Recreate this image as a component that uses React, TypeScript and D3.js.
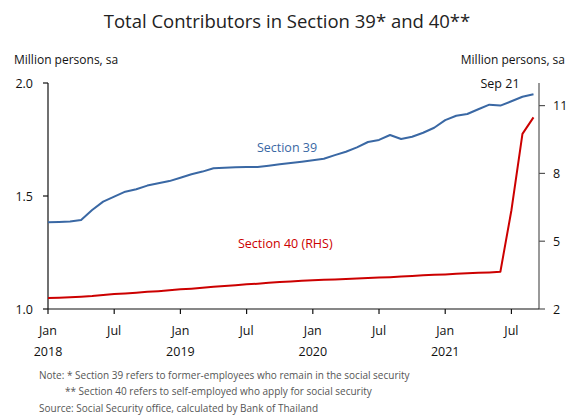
import React from "react";
import * as d3 from "d3";

// Monthly observations, Jan 2018 .. Sep 2021
const months: string[] = [
  "2018-01","2018-02","2018-03","2018-04","2018-05","2018-06","2018-07","2018-08","2018-09","2018-10","2018-11","2018-12",
  "2019-01","2019-02","2019-03","2019-04","2019-05","2019-06","2019-07","2019-08","2019-09","2019-10","2019-11","2019-12",
  "2020-01","2020-02","2020-03","2020-04","2020-05","2020-06","2020-07","2020-08","2020-09","2020-10","2020-11","2020-12",
  "2021-01","2021-02","2021-03","2021-04","2021-05","2021-06","2021-07","2021-08","2021-09",
];

// Section 39 (million persons, left axis)
const section39: number[] = [
  1.384, 1.385, 1.387, 1.394, 1.438, 1.475, 1.497, 1.519, 1.530, 1.546, 1.556, 1.566,
  1.581, 1.596, 1.608, 1.623, 1.625, 1.627, 1.628, 1.628, 1.634, 1.640, 1.646, 1.652,
  1.658, 1.665, 1.681, 1.696, 1.715, 1.739, 1.748, 1.770, 1.752, 1.762, 1.780, 1.802,
  1.836, 1.855, 1.863, 1.884, 1.904, 1.900, 1.919, 1.939, 1.950,
];

// Section 40 (million persons, right axis)
const section40: number[] = [
  2.49, 2.50, 2.52, 2.54, 2.57, 2.62, 2.66, 2.69, 2.72, 2.76, 2.79, 2.83,
  2.87, 2.90, 2.94, 2.98, 3.02, 3.05, 3.09, 3.12, 3.16, 3.19, 3.22, 3.25,
  3.27, 3.29, 3.31, 3.33, 3.35, 3.37, 3.39, 3.41, 3.44, 3.46, 3.49, 3.51,
  3.53, 3.56, 3.58, 3.60, 3.62, 3.65, 6.37, 9.75, 10.48,
];

const leftTicks: number[] = [1.0, 1.5, 2.0];
const rightTicks: number[] = [2, 5, 8, 11];
const xTickMonths: string[] = ["2018-01","2018-07","2019-01","2019-07","2020-01","2020-07","2021-01","2021-07"];
const monthNames: string[] = ["Jan","Feb","Mar","Apr","May","Jun","Jul","Aug","Sep","Oct","Nov","Dec"];

const FONT = "'Open Sans', 'Liberation Sans', sans-serif";
const BLUE = "#3a68a4";
const RED = "#cc0000";

export default function App() {
  const W = 572, H = 418;
  const left = 48, right = 539, top = 83, bottom = 309;

  const idx = (m: string) => {
    const [y, mo] = m.split("-").map(Number);
    return (y - 2018) * 12 + (mo - 1);
  };

  const x = d3.scaleLinear().domain([0, 44.5]).range([left, right]);
  const yL = d3.scaleLinear().domain([1.0, 2.0]).range([bottom, top]);
  const yR = d3.scaleLinear().domain([2, 12]).range([bottom, top]);

  const line39 = d3.line<number>().x((_, i) => x(idx(months[i]))).y((d) => yL(d))(section39) || "";
  const line40 = d3.line<number>().x((_, i) => x(idx(months[i]))).y((d) => yR(d))(section40) || "";

  return (
    <svg width={W} height={H} style={{ position: "absolute", left: 0, top: 0, background: "#fff" }} fontFamily={FONT}>
      <text x={287} y={28} textAnchor="middle" fontSize={18.5} fill="#222">
        Total Contributors in Section 39* and 40**
      </text>
      <text x={14} y={64} fontSize={12} fill="#111">Million persons, sa</text>
      <text x={565} y={64} fontSize={12} fill="#111" textAnchor="end">Million persons, sa</text>

      {/* axes */}
      <line x1={left} x2={left} y1={top} y2={bottom} stroke="#111" strokeWidth={1.2} />
      <line x1={right} x2={right} y1={top} y2={bottom} stroke="#555" strokeWidth={1.2} />
      <line x1={left} x2={right} y1={bottom} y2={bottom} stroke="#111" strokeWidth={1.2} />

      {leftTicks.map((t) => (
        <g key={"l" + t}>
          <line x1={left - 5} x2={left} y1={yL(t)} y2={yL(t)} stroke="#111" strokeWidth={1.2} />
          <text x={33} y={yL(t) + 4.5} textAnchor="end" fontSize={12.5} fill="#111">{t.toFixed(1)}</text>
        </g>
      ))}
      {rightTicks.map((t) => (
        <g key={"r" + t}>
          <line x1={right} x2={right + 6} y1={yR(t)} y2={yR(t)} stroke="#555" strokeWidth={1.2} />
          <text x={553} y={yR(t) + 4.5} fontSize={12.5} fill="#111">{t}</text>
        </g>
      ))}
      {xTickMonths.map((m) => {
        const i = idx(m);
        const mo = Number(m.split("-")[1]);
        return (
          <g key={m}>
            <line x1={x(i)} x2={x(i)} y1={bottom} y2={bottom + 5} stroke="#111" strokeWidth={1.2} />
            <text x={x(i)} y={335} textAnchor="middle" fontSize={12.5} fill="#111">{monthNames[mo - 1]}</text>
            {mo === 1 && (
              <text x={x(i)} y={356} textAnchor="middle" fontSize={12.5} fill="#111">{m.split("-")[0]}</text>
            )}
          </g>
        );
      })}

      <path d={line40} fill="none" stroke={RED} strokeWidth={2} strokeLinejoin="round" />
      <path d={line39} fill="none" stroke={BLUE} strokeWidth={2} strokeLinejoin="round" />

      <text x={287} y={152} textAnchor="middle" fontSize={12.5} fill={BLUE}>Section 39</text>
      <text x={238} y={248} fontSize={12.5} fill={RED}>Section 40 (RHS)</text>
      <text x={500} y={88} textAnchor="middle" fontSize={12.5} fill="#111">Sep 21</text>

      <text x={39} y={379} fontSize={10} fill="#555">Note: * Section 39 refers to former-employees who remain in the social security</text>
      <text x={65} y={395} fontSize={10} fill="#555">** Section 40 refers to self-employed who apply for social security</text>
      <text x={39} y={412} fontSize={10} fill="#555">Source: Social Security office, calculated by Bank of Thailand</text>
    </svg>
  );
}
